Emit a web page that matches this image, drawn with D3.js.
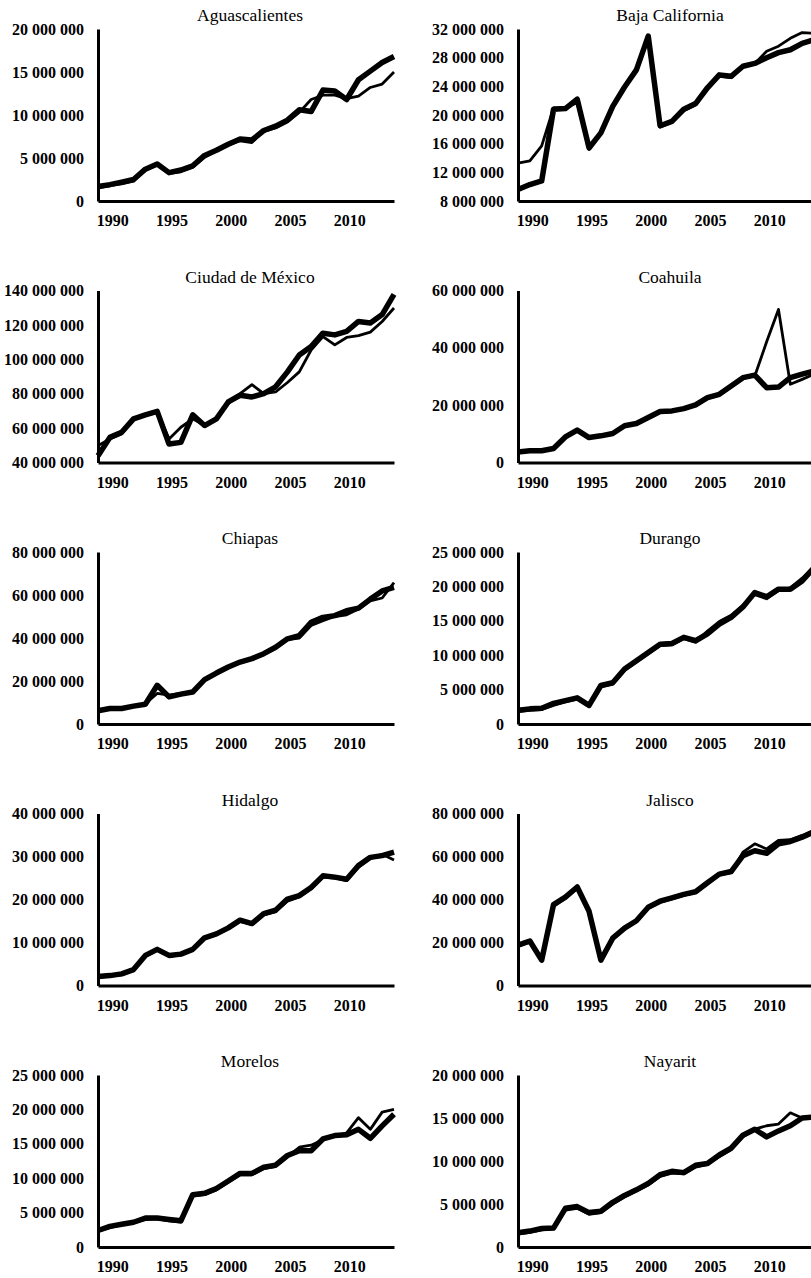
<!DOCTYPE html>
<html>
<head>
<meta charset="utf-8">
<script src="https://cdn.jsdelivr.net/npm/d3@7"></script>
<style>
  html, body { margin: 0; padding: 0; background: #fff; }
  svg { display: block; }
  .tick text { font-family: "Liberation Serif", "Times New Roman", serif; }
</style>
</head>
<body>
<svg id="chart" width="811" height="1278"></svg>
<script>
// ---------------- DATA ----------------
const years = [1989,1990,1991,1992,1993,1994,1995,1996,1997,1998,1999,2000,2001,2002,2003,2004,2005,2006,2007,2008,2009,2010,2011,2012,2013,2014];
const xTickYears = [1990, 1995, 2000, 2005, 2010];

const states = ["Aguascalientes", "Baja California", "Ciudad de México", "Coahuila", "Chiapas", "Durango", "Hidalgo", "Jalisco", "Morelos", "Nayarit"];

// y-axis domains and tick steps (per state, same order)
const yMins  = [0, 8000000, 40000000, 0, 0, 0, 0, 0, 0, 0];
const yMaxs  = [20000000, 32000000, 140000000, 60000000, 80000000, 25000000, 40000000, 80000000, 25000000, 20000000];
const ySteps = [5000000, 4000000, 20000000, 20000000, 20000000, 5000000, 10000000, 20000000, 5000000, 5000000];

// values in millions (thick series / thin series)
const aguascalientesThick = [1.7,1.9,2.2,2.5,3.7,4.3,3.3,3.6,4.1,5.3,5.9,6.6,7.2,7.1,8.2,8.7,9.4,10.6,10.4,12.9,12.8,11.8,14.1,15.1,16.1,16.8];
const aguascalientesThin  = [1.5,1.8,2.0,2.3,3.6,4.2,3.2,3.4,3.9,5.1,5.8,6.5,7.0,6.8,8.1,8.5,9.2,10.3,11.8,12.3,12.3,11.9,12.2,13.2,13.6,15.0];

const bajaCaliforniaThick = [9.6,10.3,10.8,20.8,20.9,22.2,15.4,17.5,21.2,23.9,26.3,31.0,18.5,19.1,20.8,21.6,23.8,25.6,25.4,26.8,27.2,28.0,28.7,29.1,30.0,30.5];
const bajaCaliforniaThin  = [13.3,13.6,15.7,21.0,21.0,21.7,15.2,17.4,21.0,23.8,26.1,30.8,18.3,19.0,20.6,21.4,23.6,25.4,25.2,26.7,27.2,28.9,29.6,30.7,31.5,31.4];

const ciudadDeMexicoThick = [43.9,54.6,57.6,65.4,67.7,69.7,50.7,51.7,67.7,61.5,65.4,75.2,79.1,78.1,80.0,84.0,92.7,102.5,107.4,115.2,114.2,116.2,122.0,121.1,126.0,137.7];
const ciudadDeMexicoThin  = [49.8,53.7,56.6,65.0,67.3,69.3,53.7,60.5,65.4,61.5,65.4,74.2,80.0,85.3,80.0,81.0,86.5,92.7,105.4,113.2,108.4,112.7,113.8,115.8,122.0,129.8];

const coahuilaThick = [3.7,4.1,4.1,4.9,8.9,11.3,8.7,9.3,10.1,12.8,13.6,15.7,17.8,18.0,18.8,20.1,22.6,23.8,26.7,29.6,30.5,26.1,26.3,29.6,30.8,31.9];
const coahuilaThin  = [3.5,3.9,4.0,4.7,8.7,11.0,8.5,9.1,9.9,12.6,13.4,15.4,17.5,17.8,18.5,19.8,22.3,23.5,26.4,29.3,30.2,42.1,53.4,27.3,29.0,30.8];

const chiapasThick = [6.2,7.2,7.2,8.3,9.2,18.0,12.6,13.9,14.9,20.6,23.7,26.5,28.8,30.4,32.7,35.7,39.6,41.1,47.3,49.6,50.4,52.7,53.9,58.1,61.9,63.5];
const chiapasThin  = [6.0,7.0,7.4,8.5,9.5,14.2,13.4,14.2,15.2,20.2,23.5,26.2,28.5,30.1,32.3,35.3,39.2,40.0,45.8,48.1,50.0,50.8,53.5,57.3,58.6,65.8];

const durangoThick = [2.0,2.2,2.3,3.0,3.4,3.8,2.7,5.6,6.0,8.0,9.2,10.4,11.6,11.7,12.6,12.1,13.1,14.5,15.5,17.0,19.1,18.5,19.6,19.6,20.8,22.7];
const durangoThin  = [1.8,2.0,2.1,2.7,3.2,3.6,2.6,5.4,5.8,7.8,9.0,10.2,11.4,11.5,12.4,11.9,13.5,14.9,15.8,17.3,18.8,18.2,19.4,19.8,21.2,22.9];

const hidalgoThick = [2.1,2.3,2.7,3.7,7.0,8.4,7.0,7.3,8.4,11.1,12.0,13.4,15.2,14.4,16.7,17.5,20.1,20.9,22.8,25.5,25.2,24.7,27.9,29.8,30.2,31.0];
const hidalgoThin  = [1.9,2.2,2.5,3.5,6.8,8.2,6.8,7.1,8.2,10.9,11.8,13.2,14.9,14.2,16.4,17.2,19.6,20.6,22.5,25.2,25.0,24.4,27.5,29.5,30.5,29.2];

const jaliscoThick = [18.8,20.7,11.8,37.6,41.1,45.8,34.5,11.8,22.0,26.7,30.1,36.4,39.2,40.8,42.4,43.6,47.8,51.8,53.0,60.4,62.7,61.5,65.9,67.0,69.0,71.4];
const jaliscoThin  = [18.2,20.2,11.5,36.8,40.5,45.2,34.0,11.5,21.5,26.2,29.6,35.9,38.7,40.3,41.9,43.2,47.3,51.3,52.5,62.0,65.9,63.5,67.5,67.8,69.8,72.2];

const morelosThick = [2.4,3.0,3.3,3.6,4.2,4.2,4.0,3.8,7.6,7.8,8.5,9.6,10.7,10.7,11.6,11.9,13.3,14.0,14.0,15.7,16.2,16.3,17.1,15.8,17.6,19.3];
const morelosThin  = [2.3,2.8,3.2,3.5,4.0,4.1,3.8,3.6,7.4,7.6,8.3,9.4,10.5,10.5,11.4,11.7,13.1,14.5,14.8,15.6,16.1,16.6,18.8,17.1,19.6,20.0];

const nayaritThick = [1.65,1.85,2.15,2.2,4.5,4.7,4.0,4.15,5.2,6.0,6.65,7.4,8.4,8.8,8.65,9.5,9.7,10.7,11.5,13.0,13.7,12.8,13.5,14.1,15.0,15.1];
const nayaritThin  = [1.5,1.7,2.0,2.1,4.3,4.5,3.8,4.0,5.0,5.8,6.5,7.2,8.2,8.6,8.5,9.3,9.6,10.5,11.3,12.8,13.7,14.1,14.3,15.6,15.0,15.1];

const thickSeries = [aguascalientesThick, bajaCaliforniaThick, ciudadDeMexicoThick, coahuilaThick, chiapasThick, durangoThick, hidalgoThick, jaliscoThick, morelosThick, nayaritThick];
const thinSeries  = [aguascalientesThin, bajaCaliforniaThin, ciudadDeMexicoThin, coahuilaThin, chiapasThin, durangoThin, hidalgoThin, jaliscoThin, morelosThin, nayaritThin];

// ---------------- LAYOUT ----------------
const svg = d3.select("#chart");
const colX = [98, 518];      // y-axis x position per column
const rowTop0 = 29, rowPitch = 261.5;
const plotW = 296, plotH = 172;
const FONT = '"Liberation Serif", "Times New Roman", serif';

const locale = d3.formatLocale({decimal: ".", thousands: " ", grouping: [3], currency: ["", ""]});
const fmt = locale.format(",d");

states.forEach((name, i) => {
  const col = i % 2, row = Math.floor(i / 2);
  const ox = colX[col], oy = rowTop0 + row * rowPitch;
  const g = svg.append("g").attr("transform", `translate(${ox},${oy})`);

  const x = d3.scaleLinear().domain([years[0], years[years.length - 1]]).range([0, plotW]);
  const y = d3.scaleLinear().domain([yMins[i], yMaxs[i]]).range([plotH, 0]);

  const yTicks = d3.range(yMins[i], yMaxs[i] + 1, ySteps[i]);

  // y axis
  const ya = g.append("g")
    .call(d3.axisLeft(y).tickValues(yTicks).tickSize(0).tickSizeOuter(0).tickPadding(14).tickFormat(fmt));
  ya.select(".domain").attr("stroke", "#000").attr("stroke-width", 3);
  ya.selectAll("text").attr("font-family", FONT).attr("font-size", 16).attr("font-weight", "bold").attr("fill", "#000");

  // x axis
  const xa = g.append("g").attr("transform", `translate(0,${plotH})`)
    .call(d3.axisBottom(x).tickValues(xTickYears).tickSize(0).tickSizeOuter(0).tickPadding(14).tickFormat(d3.format("d")));
  xa.select(".domain").attr("stroke", "#000").attr("stroke-width", 3);
  xa.selectAll("text").attr("font-family", FONT).attr("font-size", 16).attr("font-weight", "bold").attr("fill", "#000").attr("dx", 2.5);

  // lines
  const line = d3.line().x((d, k) => x(years[k])).y(d => y(d * 1e6));
  g.append("path").datum(thickSeries[i]).attr("d", line)
    .attr("fill", "none").attr("stroke", "#000").attr("stroke-width", 5.5).attr("stroke-linejoin", "round");
  g.append("path").datum(thinSeries[i]).attr("d", line)
    .attr("fill", "none").attr("stroke", "#000").attr("stroke-width", 2.8).attr("stroke-linejoin", "round");

  // title
  g.append("text").attr("x", plotW / 2 + 4).attr("y", -8)
    .attr("text-anchor", "middle").attr("font-family", FONT).attr("font-size", 17.5)
    .attr("fill", "#000").text(name);
});
</script>
</body>
</html>
